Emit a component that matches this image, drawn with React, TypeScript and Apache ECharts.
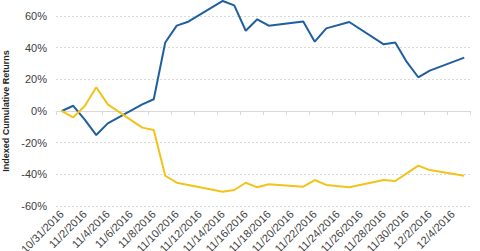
import React, { useEffect, useRef } from "react";
import * as echarts from "echarts";

const categories = [
  "10/31/2016", "11/1/2016", "11/2/2016", "11/3/2016", "11/4/2016", "11/5/2016",
  "11/6/2016", "11/7/2016", "11/8/2016", "11/9/2016", "11/10/2016", "11/11/2016",
  "11/12/2016", "11/13/2016", "11/14/2016", "11/15/2016", "11/16/2016", "11/17/2016",
  "11/18/2016", "11/19/2016", "11/20/2016", "11/21/2016", "11/22/2016", "11/23/2016",
  "11/24/2016", "11/25/2016", "11/26/2016", "11/27/2016", "11/28/2016", "11/29/2016",
  "11/30/2016", "12/1/2016", "12/2/2016", "12/3/2016", "12/4/2016", "12/5/2016",
];

// null = no trading day (weekend / holiday)
const blueSeries = [
  0, 3.3, -5.5, -15.2, -7.8, null,
  null, 4.2, 7.4, 43.3, 53.9, 56.4,
  null, null, 69.5, 66.7, 50.7, 57.9,
  53.9, null, null, 56.6, 43.8, 52.2,
  null, 56.2, null, null, 42.1, 43.2,
  31.0, 21.3, 25.5, null, null, 33.7,
];

const yellowSeries = [
  0, -4.0, 3.2, 15.0, 4.2, null,
  null, -10.5, -12.0, -40.9, -45.3, -46.7,
  null, null, -51.0, -49.9, -45.3, -48.2,
  -46.3, null, null, -47.8, -43.6, -46.7,
  null, -48.2, null, null, -43.6, -44.2,
  -39.4, -34.5, -37.3, null, null, -40.9,
];

const yTicks = { min: -60, max: 60, interval: 20 };

export default function App() {
  const ref = useRef<HTMLDivElement>(null);
  useEffect(() => {
    if (!ref.current) return;
    const chart = echarts.init(ref.current, null, { renderer: "svg" });
    const font = "Liberation Sans, Arial, sans-serif";
    chart.setOption({
      animation: false,
      grid: {
        left: 56,
        right: 10,
        top: 16,
        bottom: 45,
        containLabel: false,
        outerBoundsMode: "none",
      },
      xAxis: [
        {
          type: "category",
          data: categories,
          boundaryGap: true,
          position: "bottom",
          axisLine: { show: false, onZero: false },
          axisTick: { show: false },
          axisLabel: {
            interval: 1,
            rotate: 45,
            fontSize: 11,
            color: "#404040",
            fontFamily: font,
            margin: 6,
          },
          splitLine: { show: false },
        },
        {
          type: "category",
          data: categories,
          boundaryGap: true,
          position: "bottom",
          axisLine: { show: true, onZero: true, lineStyle: { color: "#d9d9d9", width: 1 } },
          axisTick: { show: true, interval: 1, length: 4, lineStyle: { color: "#d9d9d9" } },
          axisLabel: { show: false },
          splitLine: { show: false },
        },
      ],
      yAxis: {
        type: "value",
        min: yTicks.min,
        max: yTicks.max,
        interval: yTicks.interval,
        name: "Indexed Cumulative Returns",
        nameLocation: "middle",
        nameGap: 39,
        nameTextStyle: { fontSize: 9, fontWeight: "bold", color: "#262626", fontFamily: font },
        axisLine: { show: false },
        axisTick: { show: false },
        axisLabel: {
          formatter: (v: number) => `${v}%`,
          fontSize: 11,
          color: "#404040",
          fontFamily: font,
          margin: 9,
        },
        splitLine: { show: true, lineStyle: { color: "#d9d9d9", type: [2, 2], width: 1 } },
      },
      series: [
        {
          type: "line",
          data: blueSeries,
          xAxisIndex: 0,
          connectNulls: true,
          showSymbol: false,
          clip: false,
          lineStyle: { color: "#1f5f9f", width: 2 },
          itemStyle: { color: "#1f5f9f" },
        },
        {
          type: "line",
          data: yellowSeries,
          xAxisIndex: 0,
          connectNulls: true,
          showSymbol: false,
          clip: false,
          lineStyle: { color: "#f2c31b", width: 2 },
          itemStyle: { color: "#f2c31b" },
        },
      ],
    });
    return () => chart.dispose();
  }, []);
  return (
    <div
      ref={ref}
      style={{ position: "absolute", left: 0, top: 0, width: 480, height: 251, background: "#fff" }}
    />
  );
}
